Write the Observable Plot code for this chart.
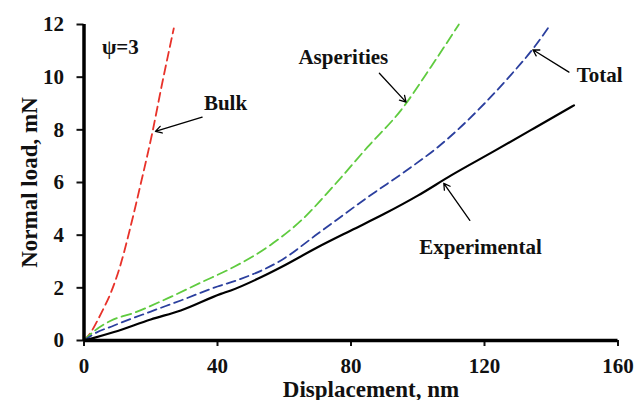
<!DOCTYPE html>
<html>
<head>
<meta charset="utf-8">
<script src="https://cdn.jsdelivr.net/npm/d3@7"></script>
<script src="https://cdn.jsdelivr.net/npm/@observablehq/plot@0.6"></script>
<style>
  html, body { margin: 0; padding: 0; background: #fff; }
  #chart svg { display: block; }
  #chart svg text { font-weight: bold; }
</style>
</head>
<body>
<div id="chart"></div>
<script>
// ---- data ----
const bulkX = [0, 2, 4, 6, 8, 11, 14, 17, 20.4, 23.4, 26.9];
const bulkY = [0, 0.3, 0.75, 1.25, 1.8, 2.9, 4.35, 5.95, 7.85, 9.75, 11.85];

const asperX = [0, 3, 8, 15, 25, 35, 45, 55, 65, 75, 85, 95, 104, 112.3];
const asperY = [0, 0.35, 0.75, 1.05, 1.6, 2.2, 2.8, 3.55, 4.55, 5.9, 7.35, 8.75, 10.4, 12];

const totalX = [0, 3, 9, 20, 29, 40, 47, 59, 70, 85, 98, 106, 120, 128, 134.3, 139.8];
const totalY = [0, 0.25, 0.57, 1.1, 1.52, 2.05, 2.34, 3.04, 4.05, 5.44, 6.58, 7.34, 9.0, 10.1, 11.04, 12];

const expX = [0, 3, 9, 20, 29, 41, 44, 53, 59, 70, 80, 90, 100, 110, 123, 135, 146.8];
const expY = [0, 0.1, 0.32, 0.8, 1.14, 1.77, 1.9, 2.4, 2.78, 3.54, 4.18, 4.81, 5.5, 6.27, 7.2, 8.07, 8.93];

const xTicks = [0, 40, 80, 120, 160];
const yTicks = [0, 2, 4, 6, 8, 10, 12];

const labelText = ["ψ=3", "Bulk", "Asperities", "Total", "Experimental"];
const labelX = [10.9, 42.4, 77.7, 154.5, 118.8];
const labelY = [11.13, 9.0, 10.75, 10.06, 3.53];

// arrows: from (x1,y1) to tip (x2,y2)
const arrowX1 = [35.4, 88.5, 145.3, 115.6];
const arrowY1 = [8.48, 10.15, 10.19, 4.56];
const arrowX2 = [21.4, 96.5, 134.5, 107.8];
const arrowY2 = [7.94, 9.05, 11.04, 5.97];

// ---- build tables ----
const toRows = (xs, ys) => xs.map((x, i) => ({x, y: ys[i]}));
const bulk = toRows(bulkX, bulkY);
const asper = toRows(asperX, asperY);
const total = toRows(totalX, totalY);
const exp = toRows(expX, expY);
const labels = labelText.map((t, i) => ({t, x: labelX[i], y: labelY[i]}));
const arrows = arrowX1.map((x1, i) => ({x1, y1: arrowY1[i], x2: arrowX2[i], y2: arrowY2[i]}));

const chart = Plot.plot({
  width: 644,
  height: 400,
  marginLeft: 83.5,
  marginRight: 26.5,
  marginTop: 24,
  marginBottom: 60,
  style: {fontFamily: "'Liberation Serif', 'Times New Roman', serif", fontWeight: "bold", color: "#111", background: "#fff"},
  x: {domain: [0, 160]},
  y: {domain: [0, 12]},
  marks: [
    Plot.axisX({ticks: xTicks, tickSize: 6, tickPadding: 12, label: null, fontSize: 21, fontWeight: "bold", strokeWidth: 2, tickFormat: d => String(d)}),
    Plot.axisY({ticks: yTicks, tickSize: 7, tickPadding: 13, label: null, fontSize: 21, fontWeight: "bold", strokeWidth: 2, tickFormat: d => String(d)}),
    Plot.line(bulk, {x: "x", y: "y", stroke: "#e8322a", strokeWidth: 1.8, strokeDasharray: "9,5", curve: "monotone-x"}),
    Plot.line(asper, {x: "x", y: "y", stroke: "#5fcb3f", strokeWidth: 1.8, strokeDasharray: "10,5", curve: "monotone-x"}),
    Plot.line(total, {x: "x", y: "y", stroke: "#2b3f9e", strokeWidth: 1.8, strokeDasharray: "9,5", curve: "monotone-x"}),
    Plot.line(exp, {x: "x", y: "y", stroke: "#000", strokeWidth: 2.2, curve: "monotone-x"}),
    Plot.ruleY([0], {stroke: "#000", strokeWidth: 3.5}),
    Plot.ruleX([0], {stroke: "#000", strokeWidth: 3.5}),
    Plot.arrow(arrows, {x1: "x1", y1: "y1", x2: "x2", y2: "y2", stroke: "#000", strokeWidth: 1.3, headLength: 8}),
    Plot.text(labels, {x: "x", y: "y", text: "t", fontSize: 21, fontWeight: "bold", fill: "#111"}),
    Plot.text(["Displacement, nm"], {frameAnchor: "bottom", textAnchor: "middle", lineAnchor: "bottom", dy: 56, dx: 20, fontSize: 23, fontWeight: "bold", fill: "#111"}),
    Plot.text(["Normal load, mN"], {frameAnchor: "left", textAnchor: "middle", lineAnchor: "bottom", dx: -47, rotate: -90, fontSize: 23, fontWeight: "bold", fill: "#111"})
  ]
});
document.getElementById("chart").appendChild(chart);
</script>
</body>
</html>
